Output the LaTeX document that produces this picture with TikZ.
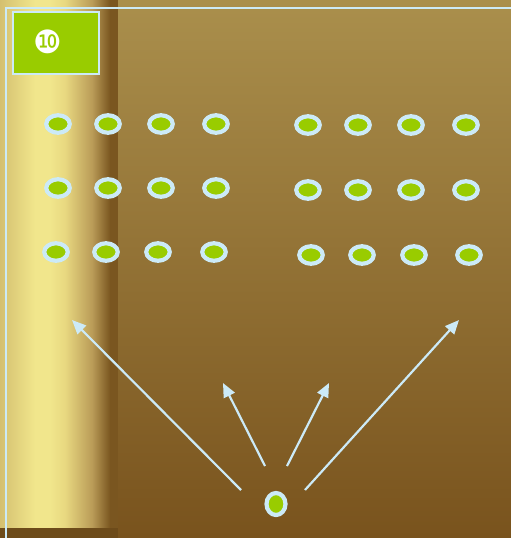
\documentclass[tikz,border=0pt]{standalone}
\usepackage{fontspec}
\newfontfamily\dejavu{DejaVu Sans}
\usepackage{tikz}
\usetikzlibrary{arrows.meta,positioning,shapes.geometric}
\definecolor{bgtop}{RGB}{170,143,76}
\definecolor{bgbot}{RGB}{121,83,29}
\definecolor{bandA}{RGB}{212,192,112}
\definecolor{bandB}{RGB}{241,230,140}
\definecolor{bandC}{RGB}{232,216,128}
\definecolor{bandD}{RGB}{186,156,88}
\definecolor{bandE}{RGB}{122,86,32}
\definecolor{frameblue}{RGB}{204,234,247}
\definecolor{dotgreen}{RGB}{153,204,0}

\begin{document}
\begin{tikzpicture}[
  x=1pt, y=-1pt,
  dot/.style={ellipse, draw=frameblue, fill=dotgreen, line width=4.2pt,
    inner sep=0pt, minimum width=23.5pt, minimum height=17.5pt},
  arrow/.style={-{Triangle[length=14pt,width=12pt]}, line width=2.2pt, draw=frameblue}
]
\useasboundingbox (0,0) rectangle (511,538);
% background and golden band
\shade[top color=bgtop, bottom color=bgbot] (0,0) rectangle (511,538);
\shade[left color=bandA, right color=bandB] (0,0) rectangle (35,528);
\fill[bandB] (35,0) rectangle (50,528);
\shade[left color=bandB, right color=bandC] (50,0) rectangle (65,528);
\shade[left color=bandC, right color=bandD] (65,0) rectangle (92,528);
\shade[left color=bandD, right color=bandE] (92,0) rectangle (110,528);
\fill[bandE] (110,0) rectangle (118,528);
\fill[bgbot!90!black] (0,528) rectangle (118,538);
% frame
\draw[frameblue, line width=2.6pt] (6,538) -- (6,8) -- (511,8);
\node[draw=frameblue, fill=dotgreen, line width=2pt, minimum width=86pt,
  minimum height=62pt, inner sep=0pt] (badge) at (55.5,42.5) {};
\node[font=\dejavu\fontsize{32}{32}\selectfont, text=white, inner sep=0pt]
  (num) at (48,42) {❿};

% left group
\node[dot] (l11) at (58,124) {};
\node[dot] (l12) at (108,124) {};
\node[dot] (l13) at (161,124) {};
\node[dot] (l14) at (216,124) {};
\node[dot] (l21) at (58,188) {};
\node[dot] (l22) at (108,188) {};
\node[dot] (l23) at (161,188) {};
\node[dot] (l24) at (216,188) {};
\node[dot] (l31) at (56,252) {};
\node[dot] (l32) at (106,252) {};
\node[dot] (l33) at (158,252) {};
\node[dot] (l34) at (214,252) {};
% right group
\node[dot] (r11) at (308,125) {};
\node[dot] (r12) at (358,125) {};
\node[dot] (r13) at (411,125) {};
\node[dot] (r14) at (466,125) {};
\node[dot] (r21) at (308,190) {};
\node[dot] (r22) at (358,190) {};
\node[dot] (r23) at (411,190) {};
\node[dot] (r24) at (466,190) {};
\node[dot] (r31) at (311,255) {};
\node[dot] (r32) at (362,255) {};
\node[dot] (r33) at (414,255) {};
\node[dot] (r34) at (469,255) {};

% source dot and arrows
\node[dot, minimum width=19pt, minimum height=22pt] (src) at (276,504) {};
\coordinate (t1) at (241,490);
\coordinate (t2) at (265,466);
\coordinate (t3) at (287,466);
\coordinate (t4) at (305,490);
\coordinate (h1) at (72,320);
\coordinate (h2) at (223,383);
\coordinate (h3) at (329,383);
\coordinate (h4) at (459,320);
\draw[arrow] (t1) -- (h1);
\draw[arrow] (t2) -- (h2);
\draw[arrow] (t3) -- (h3);
\draw[arrow] (t4) -- (h4);
\end{tikzpicture}
\end{document}
